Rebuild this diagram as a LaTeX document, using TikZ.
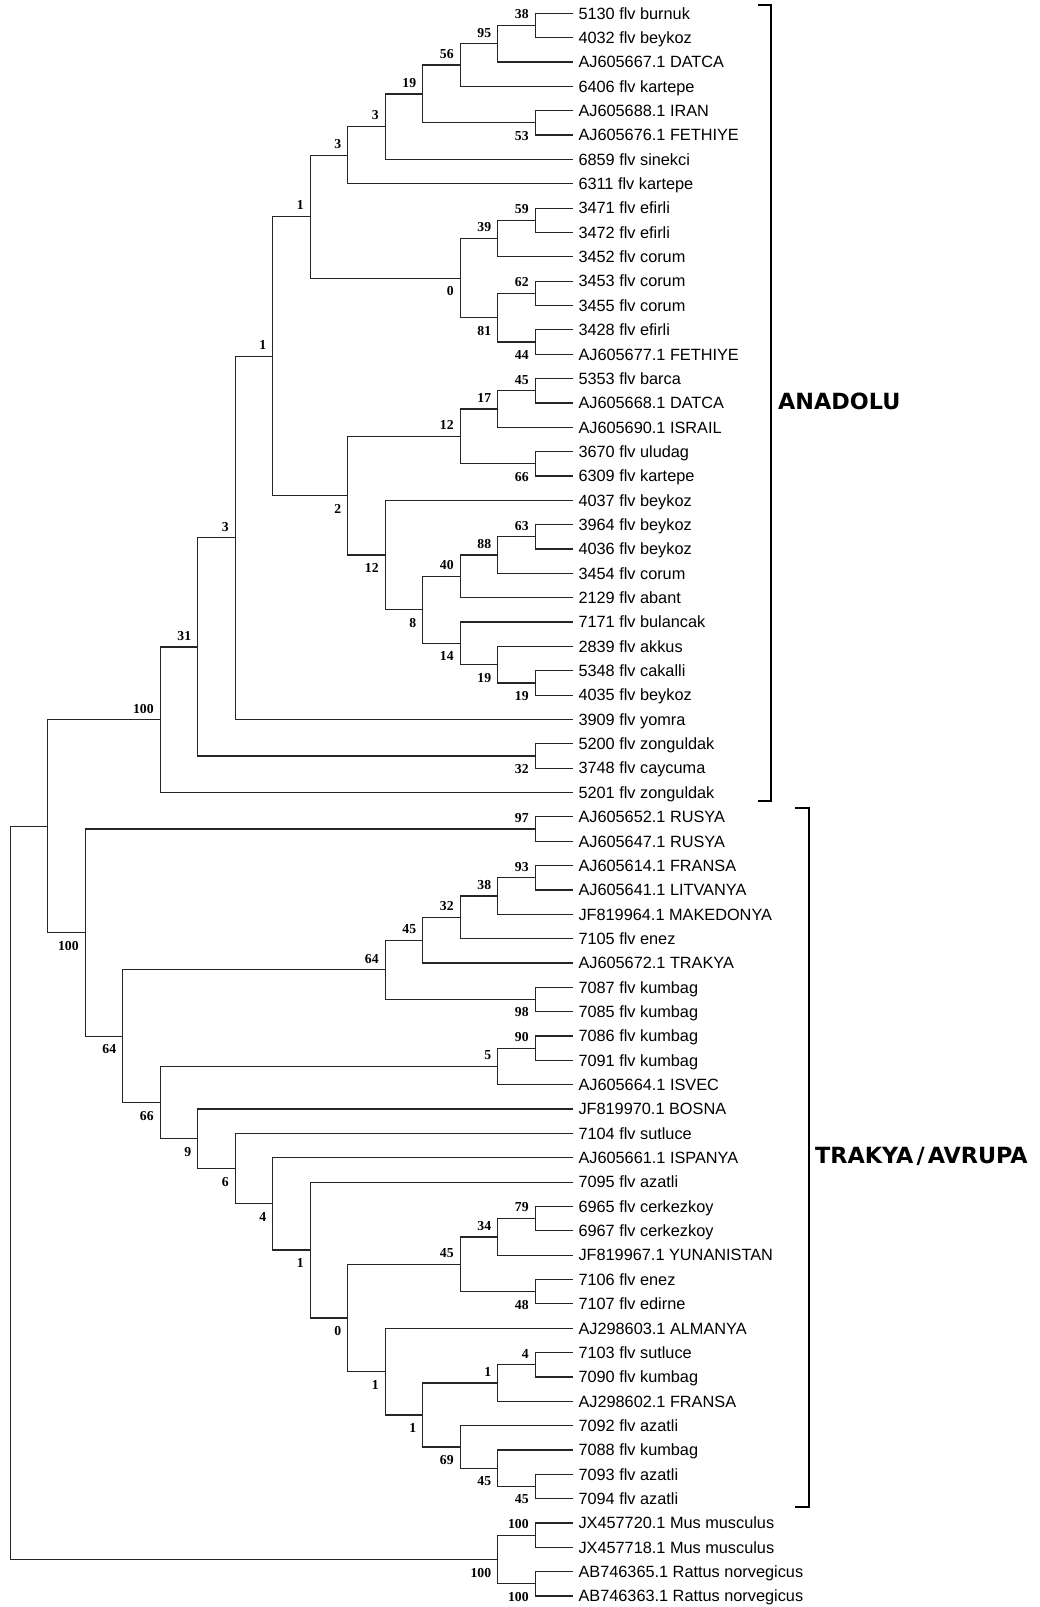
\documentclass[tikz,border=0pt]{standalone}
\usepackage{fontspec}
\setmainfont{Liberation Serif}
\newfontfamily\leaffont{Liberation Sans}
\newfontfamily\grpfont{DejaVu Sans}
\usetikzlibrary{calc}

% internal node: name, depth level, row, upper child, lower child, support, side (a/b)
\newcommand\clade[7]{%
  \coordinate (#1) at ({10.3+37.5*#2},#3);
  \draw[branch] (#4) -| (#1) |- (#5);
  \node[bs#7] (#1lab) at (#1) {#6};}

\begin{document}
\begin{tikzpicture}[x=1pt, y=-24.35pt,
  branch/.style={draw=black!85, line width=1.2pt},
  leaf/.style={anchor=west, inner xsep=5.5pt, inner ysep=0pt, text height=11.6pt, text depth=0pt,
    font=\leaffont\fontsize{16.3}{16.3}\selectfont},
  bsa/.style={anchor=south east, inner sep=0pt, text height=9.3pt, text depth=0pt,
    xshift=-6.5pt, yshift=6.5pt, font=\bfseries\fontsize{13.7}{13.7}\selectfont},
  bsb/.style={anchor=north east, inner sep=0pt, text height=9.3pt, text depth=0pt,
    xshift=-6.5pt, yshift=-8pt, font=\bfseries\fontsize{13.7}{13.7}\selectfont},
  brk/.style={draw=black, line width=2pt},
  grp/.style={anchor=west, inner sep=0pt, text height=16pt, text depth=0pt,
    font=\grpfont\bfseries\fontsize{22.3}{22.3}\selectfont}]

\fill[white] (0,0.4538) rectangle (1040,66.4497);
\useasboundingbox (0,0.4538) rectangle (1040,66.4497);

% taxa
\foreach \t [count=\i] in {
  5130 flv burnuk, 4032 flv beykoz, AJ605667.1 DATCA, 6406 flv kartepe,
  AJ605688.1 IRAN, AJ605676.1 FETHIYE, 6859 flv sinekci, 6311 flv kartepe,
  3471 flv efirli, 3472 flv efirli, 3452 flv corum, 3453 flv corum,
  3455 flv corum, 3428 flv efirli, AJ605677.1 FETHIYE, 5353 flv barca,
  AJ605668.1 DATCA, AJ605690.1 ISRAIL, 3670 flv uludag, 6309 flv kartepe,
  4037 flv beykoz, 3964 flv beykoz, 4036 flv beykoz, 3454 flv corum,
  2129 flv abant, 7171 flv bulancak, 2839 flv akkus, 5348 flv cakalli,
  4035 flv beykoz, 3909 flv yomra, 5200 flv zonguldak, 3748 flv caycuma,
  5201 flv zonguldak, AJ605652.1 RUSYA, AJ605647.1 RUSYA, AJ605614.1 FRANSA,
  AJ605641.1 LITVANYA, JF819964.1 MAKEDONYA, 7105 flv enez, AJ605672.1 TRAKYA,
  7087 flv kumbag, 7085 flv kumbag, 7086 flv kumbag, 7091 flv kumbag,
  AJ605664.1 ISVEC, JF819970.1 BOSNA, 7104 flv sutluce, AJ605661.1 ISPANYA,
  7095 flv azatli, 6965 flv cerkezkoy, 6967 flv cerkezkoy, JF819967.1 YUNANISTAN,
  7106 flv enez, 7107 flv edirne, AJ298603.1 ALMANYA, 7103 flv sutluce,
  7090 flv kumbag, AJ298602.1 FRANSA, 7092 flv azatli, 7088 flv kumbag,
  7093 flv azatli, 7094 flv azatli, JX457720.1 Mus musculus, JX457718.1 Mus musculus,
  AB746365.1 Rattus norvegicus, AB746363.1 Rattus norvegicus}
  \node[leaf] (l\i) at (572.8,\i) {\t};

% Anadolu clade
\clade{n38}{14}{1.5}{l1}{l2}{38}{a}
\clade{n95}{13}{2.25}{n38}{l3}{95}{a}
\clade{n56}{12}{3.125}{n95}{l4}{56}{a}
\clade{n53}{14}{5.5}{l5}{l6}{53}{b}
\clade{n19}{11}{4.3125}{n56}{n53}{19}{a}
\clade{n3a}{10}{5.65625}{n19}{l7}{3}{a}
\clade{n3b}{9}{6.828125}{n3a}{l8}{3}{a}
\clade{n59}{14}{9.5}{l9}{l10}{59}{a}
\clade{n39}{13}{10.25}{n59}{l11}{39}{a}
\clade{n62}{14}{12.5}{l12}{l13}{62}{a}
\clade{n44}{14}{14.5}{l14}{l15}{44}{b}
\clade{n81}{13}{13.5}{n62}{n44}{81}{b}
\clade{n0}{12}{11.875}{n39}{n81}{0}{b}
\clade{n1a}{8}{9.3515625}{n3b}{n0}{1}{a}
\clade{n45a}{14}{16.5}{l16}{l17}{45}{a}
\clade{n17}{13}{17.25}{n45a}{l18}{17}{a}
\clade{n66a}{14}{19.5}{l19}{l20}{66}{b}
\clade{n12a}{12}{18.375}{n17}{n66a}{12}{a}
\clade{n63}{14}{22.5}{l22}{l23}{63}{a}
\clade{n88}{13}{23.25}{n63}{l24}{88}{a}
\clade{n40}{12}{24.125}{n88}{l25}{40}{a}
\clade{n19b}{14}{28.5}{l28}{l29}{19}{b}
\clade{n19c}{13}{27.75}{l27}{n19b}{19}{b}
\clade{n14}{12}{26.875}{l26}{n19c}{14}{b}
\clade{n8}{11}{25.5}{n40}{n14}{8}{b}
\clade{n12b}{10}{23.25}{l21}{n8}{12}{b}
\clade{n2}{9}{20.8125}{n12a}{n12b}{2}{b}
\clade{n1b}{7}{15.08203125}{n1a}{n2}{1}{a}
\clade{n3c}{6}{22.541015625}{n1b}{l30}{3}{a}
\clade{n32}{14}{31.5}{l31}{l32}{32}{b}
\clade{n31}{5}{27.0205078125}{n3c}{n32}{31}{a}
\clade{n100a}{4}{30.01025390625}{n31}{l33}{100}{a}

% Trakya / Avrupa clade
\clade{n97}{14}{34.5}{l34}{l35}{97}{a}
\clade{n93}{14}{36.5}{l36}{l37}{93}{a}
\clade{n38t}{13}{37.25}{n93}{l38}{38}{a}
\clade{n32t}{12}{38.125}{n38t}{l39}{32}{a}
\clade{n45b}{11}{39.0625}{n32t}{l40}{45}{a}
\clade{n98}{14}{41.5}{l41}{l42}{98}{b}
\clade{n64a}{10}{40.28125}{n45b}{n98}{64}{a}
\clade{n90}{14}{43.5}{l43}{l44}{90}{a}
\clade{n5}{13}{44.25}{n90}{l45}{5}{a}
\clade{n79}{14}{50.5}{l50}{l51}{79}{a}
\clade{n34}{13}{51.25}{n79}{l52}{34}{a}
\clade{n48}{14}{53.5}{l53}{l54}{48}{b}
\clade{n45t}{12}{52.375}{n34}{n48}{45}{a}
\clade{n4t}{14}{56.5}{l56}{l57}{4}{a}
\clade{n1f}{13}{57.25}{n4t}{l58}{1}{a}
\clade{n45v}{14}{61.5}{l61}{l62}{45}{b}
\clade{n45u}{13}{60.75}{l60}{n45v}{45}{b}
\clade{n69}{12}{59.875}{l59}{n45u}{69}{b}
\clade{n1e}{11}{58.5625}{n1f}{n69}{1}{b}
\clade{n1d}{10}{56.78125}{l55}{n1e}{1}{b}
\clade{n0t}{9}{54.578125}{n45t}{n1d}{0}{b}
\clade{n1c}{8}{51.7890625}{l49}{n0t}{1}{b}
\clade{n4}{7}{49.89453125}{l48}{n1c}{4}{b}
\clade{n6}{6}{48.447265625}{l47}{n4}{6}{b}
\clade{n9}{5}{47.2236328125}{l46}{n6}{9}{b}
\clade{n66}{4}{45.73681640625}{n5}{n9}{66}{b}
\clade{n64b}{3}{43.009033203125}{n64a}{n66}{64}{b}
\clade{n100t}{2}{38.7545166015625}{n97}{n64b}{100}{b}
\clade{nk1}{1}{34.38238525390625}{n100a}{n100t}{}{a}

% outgroup and root
\clade{n100m}{14}{63.5}{l63}{l64}{100}{a}
\clade{n100r}{14}{65.5}{l65}{l66}{100}{b}
\clade{n100o}{13}{64.5}{n100m}{n100r}{100}{b}
\clade{nroot}{0}{49.4412}{nk1}{n100o}{}{a}

% group brackets
\coordinate (ba1) at (758,0.647);  \coordinate (ba2) at (771,0.647);
\coordinate (ba3) at (771,33.36);  \coordinate (ba4) at (758,33.36);
\draw[brk] (ba1) -- (ba2) -- (ba3) -- (ba4);
\coordinate (bt1) at (795,33.65);  \coordinate (bt2) at (809,33.65);
\coordinate (bt3) at (809,62.36);  \coordinate (bt4) at (795,62.36);
\draw[brk] (bt1) -- (bt2) -- (bt3) -- (bt4);

\node[grp] (anadolu) at (778,16.95) {ANADOLU};
\node[grp] (trakya) at (815,47.89) {TRAKYA\makebox[14.5pt]{/}AVRUPA};
\end{tikzpicture}
\end{document}
